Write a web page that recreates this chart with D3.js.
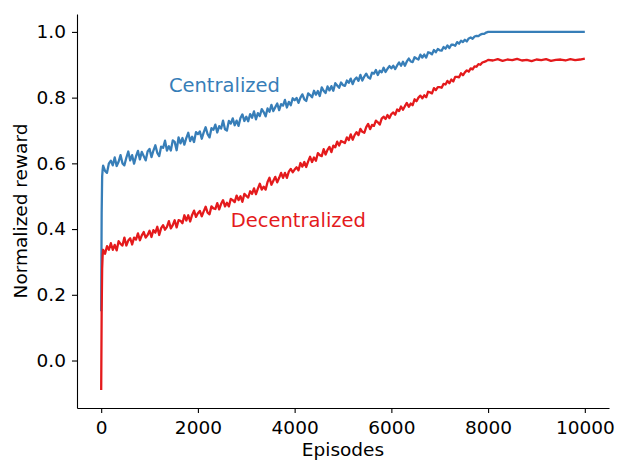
<!DOCTYPE html>
<html>
<head>
<meta charset="utf-8">
<script src="https://cdn.jsdelivr.net/npm/d3@7"></script>
<style>
  body { margin: 0; background: #fff; }
  svg { display: block; font-family: "DejaVu Sans", sans-serif; }
</style>
</head>
<body>
<svg width="618" height="461"></svg>
<script>
// начальный скачок (эпизоды 0..30)
const startEpisodes = [0, 10, 20, 30];
const centralizedStart = [0.15, 0.45, 0.56, 0.58];
const decentralizedStart = [-0.09, 0.15, 0.28, 0.32];

// основной участок: эпизоды 40..8000 с шагом 40 (по 25 точек на 1000 эпизодов)
const mainStep = 40;
const centralized = [
  0.593, 0.577, 0.571, 0.600, 0.608, 0.594, 0.618, 0.592, 0.605, 0.625, 0.600, 0.594, 0.617,
  0.636, 0.609, 0.625, 0.599, 0.621, 0.638, 0.612, 0.635, 0.622, 0.609, 0.636, 0.644,
  0.619, 0.639, 0.655, 0.632, 0.622, 0.651, 0.647, 0.669, 0.639, 0.652, 0.639, 0.670, 0.665,
  0.640, 0.679, 0.661, 0.677, 0.657, 0.677, 0.693, 0.668, 0.681, 0.665, 0.695, 0.689,
  0.697, 0.675, 0.694, 0.710, 0.689, 0.679, 0.707, 0.702, 0.718, 0.694, 0.713, 0.706, 0.730,
  0.704, 0.700, 0.729, 0.721, 0.737, 0.716, 0.730, 0.714, 0.738, 0.749, 0.729, 0.742,
  0.728, 0.750, 0.739, 0.758, 0.734, 0.753, 0.744, 0.765, 0.756, 0.743, 0.767, 0.757, 0.778,
  0.759, 0.771, 0.782, 0.762, 0.780, 0.776, 0.793, 0.770, 0.787, 0.777, 0.798, 0.792,
  0.799, 0.784, 0.800, 0.810, 0.795, 0.790, 0.813, 0.808, 0.801, 0.821, 0.809, 0.820, 0.805,
  0.831, 0.821, 0.814, 0.834, 0.822, 0.835, 0.821, 0.844, 0.837, 0.830, 0.846, 0.838,
  0.836, 0.852, 0.845, 0.858, 0.841, 0.855, 0.861, 0.851, 0.869, 0.852, 0.864, 0.873, 0.862,
  0.858, 0.876, 0.873, 0.884, 0.869, 0.882, 0.877, 0.891, 0.878, 0.888, 0.896, 0.889,
  0.897, 0.887, 0.898, 0.907, 0.897, 0.909, 0.897, 0.910, 0.919, 0.910, 0.908, 0.923, 0.919,
  0.916, 0.931, 0.922, 0.931, 0.922, 0.938, 0.936, 0.932, 0.945, 0.938, 0.948, 0.944,
  0.943, 0.954, 0.949, 0.959, 0.951, 0.961, 0.961, 0.958, 0.969, 0.964, 0.973, 0.969, 0.976,
  0.971, 0.980, 0.983, 0.979, 0.986, 0.988, 0.987, 0.992, 0.994, 0.994, 0.998, 1.000
];
const decentralized = [
  0.337, 0.325, 0.348, 0.337, 0.357, 0.337, 0.352, 0.335, 0.363, 0.355, 0.350, 0.374, 0.350,
  0.365, 0.372, 0.353, 0.374, 0.368, 0.387, 0.366, 0.381, 0.391, 0.374, 0.382, 0.395,
  0.376, 0.397, 0.389, 0.407, 0.382, 0.403, 0.412, 0.398, 0.407, 0.424, 0.402, 0.412, 0.427,
  0.405, 0.427, 0.425, 0.418, 0.442, 0.426, 0.442, 0.423, 0.443, 0.456, 0.437, 0.448,
  0.455, 0.439, 0.454, 0.468, 0.450, 0.445, 0.469, 0.463, 0.461, 0.479, 0.460, 0.477, 0.488,
  0.469, 0.480, 0.469, 0.492, 0.488, 0.482, 0.502, 0.488, 0.500, 0.483, 0.507, 0.501,
  0.496, 0.515, 0.507, 0.524, 0.506, 0.523, 0.538, 0.520, 0.529, 0.520, 0.543, 0.556, 0.535,
  0.547, 0.559, 0.542, 0.556, 0.571, 0.556, 0.571, 0.556, 0.575, 0.583, 0.573, 0.581,
  0.588, 0.579, 0.601, 0.590, 0.604, 0.589, 0.606, 0.620, 0.604, 0.618, 0.608, 0.631, 0.625,
  0.622, 0.643, 0.627, 0.641, 0.650, 0.634, 0.654, 0.649, 0.666, 0.654, 0.668, 0.665,
  0.662, 0.679, 0.671, 0.688, 0.672, 0.686, 0.695, 0.686, 0.705, 0.696, 0.693, 0.710, 0.720,
  0.704, 0.717, 0.714, 0.730, 0.725, 0.718, 0.736, 0.742, 0.735, 0.747, 0.738, 0.750,
  0.755, 0.748, 0.764, 0.759, 0.773, 0.763, 0.774, 0.784, 0.772, 0.782, 0.777, 0.795, 0.789,
  0.800, 0.806, 0.798, 0.807, 0.801, 0.818, 0.816, 0.813, 0.829, 0.823, 0.832, 0.832,
  0.830, 0.842, 0.840, 0.851, 0.844, 0.855, 0.849, 0.863, 0.863, 0.862, 0.874, 0.868, 0.877,
  0.883, 0.879, 0.889, 0.886, 0.895, 0.894, 0.902, 0.900, 0.907, 0.909, 0.911, 0.915
];

// плато после 8000 эпизодов
const tailEpisodes = [8100, 8200, 8300, 8400, 8500, 8600, 8700, 8800, 8900, 9000,
                      9100, 9200, 9300, 9400, 9500, 9600, 9700, 9800, 9900, 10000];
const centralizedTail = [1.0, 1.0, 1.0, 1.0, 1.0, 1.0, 1.0, 1.0, 1.0, 1.0,
                         1.0, 1.0, 1.0, 1.0, 1.0, 1.0, 1.0, 1.0, 1.0, 1.0];
const decentralizedTail = [0.913, 0.917, 0.912, 0.916, 0.914, 0.918, 0.913, 0.915, 0.911, 0.916,
                           0.914, 0.917, 0.912, 0.915, 0.916, 0.913, 0.917, 0.914, 0.916, 0.919];

const xTicks = [0, 2000, 4000, 6000, 8000, 10000];
const yTicks = [0.0, 0.2, 0.4, 0.6, 0.8, 1.0];

function buildSeries(start, main, tail) {
    let arr = [];
    startEpisodes.forEach((e, i) => arr.push({x: e, y: start[i]}));
    main.forEach((v, i) => arr.push({x: (i + 1) * mainStep, y: v}));
    tailEpisodes.forEach((e, i) => arr.push({x: e, y: tail[i]}));
    return arr;
}

const series = [
    {name: "Centralized", color: "#377eb8", data: buildSeries(centralizedStart, centralized, centralizedTail),
     label: [1400, 0.818]},
    {name: "Decentralized", color: "#e41a1c", data: buildSeries(decentralizedStart, decentralized, decentralizedTail),
     label: [2680, 0.407]}
];

let svg = d3.select("svg");

attr_area = {
    left: 77,
    right: 609,
    top: 14,
    bottom: 408
};

let scX = d3.scaleLinear().domain([-500, 10500]).range([attr_area.left, attr_area.right]);
let scY = d3.scaleLinear().domain([-0.1445, 1.0545]).range([attr_area.bottom, attr_area.top]);

// линии
let line = d3.line().x(d => scX(d.x)).y(d => scY(d.y));
for (let s of series) {
    svg.append("path")
        .datum(s.data)
        .attr("d", line)
        .style("fill", "none")
        .style("stroke", s.color)
        .style("stroke-width", 2.3)
        .style("stroke-linejoin", "round");
}

// подписи серий
for (let s of series) {
    svg.append("text")
        .attr("x", scX(s.label[0]))
        .attr("y", scY(s.label[1]))
        .style("fill", s.color)
        .style("font-size", "19.5px")
        .text(s.name);
}

// оси
let axisX = d3.axisBottom(scX).tickValues(xTicks).tickFormat(d3.format("d"))
    .tickSizeInner(5).tickSizeOuter(0).tickPadding(8);
let axisY = d3.axisLeft(scY).tickValues(yTicks).tickFormat(d3.format(".1f"))
    .tickSizeInner(5).tickSizeOuter(0).tickPadding(6);

let gx = svg.append("g")
    .attr("transform", `translate(0, ${attr_area.bottom})`)
    .call(axisX);
let gy = svg.append("g")
    .attr("transform", `translate(${attr_area.left}, 0)`)
    .call(axisY);

for (let g of [gx, gy]) {
    g.select(".domain").attr("stroke", "#000").attr("stroke-width", 1.1);
    g.selectAll(".tick line").attr("stroke", "#000").attr("stroke-width", 1.1);
    g.selectAll(".tick text")
        .attr("fill", "#000")
        .style("font-size", "18.5px")
        .style("font-family", "DejaVu Sans, sans-serif");
}

svg.append("text")
    .attr("x", (attr_area.left + attr_area.right) / 2)
    .attr("y", 456)
    .attr("text-anchor", "middle")
    .style("font-size", "18.5px")
    .text("Episodes");

svg.append("text")
    .attr("transform", `translate(27, ${(attr_area.top + attr_area.bottom) / 2}) rotate(-90)`)
    .attr("text-anchor", "middle")
    .style("font-size", "18.5px")
    .text("Normalized reward");
</script>
</body>
</html>
